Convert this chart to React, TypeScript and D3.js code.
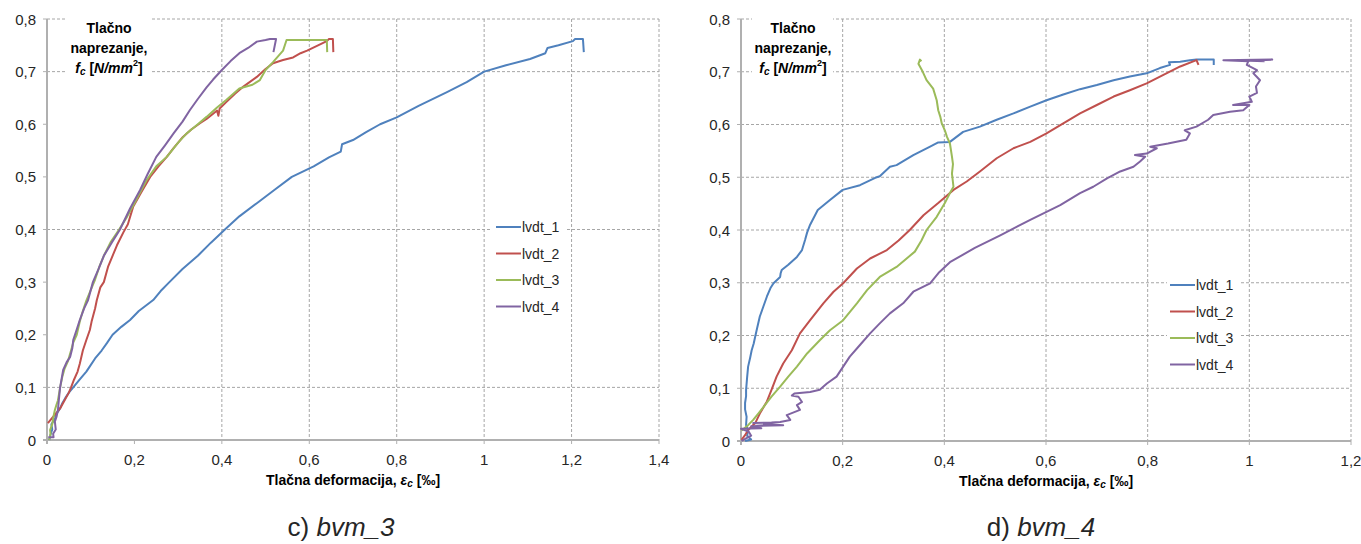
import React from "react";
import * as d3 from "d3";

type Pt = [number, number];

// ---------- tick labels ----------
const yTickValues = [0, 0.1, 0.2, 0.3, 0.4, 0.5, 0.6, 0.7, 0.8];
const yTickLabels = ["0", "0,1", "0,2", "0,3", "0,4", "0,5", "0,6", "0,7", "0,8"];
const xTicksC = [0, 0.2, 0.4, 0.6, 0.8, 1, 1.2, 1.4];
const xTickLabelsC = ["0", "0,2", "0,4", "0,6", "0,8", "1", "1,2", "1,4"];
const xTicksD = [0, 0.2, 0.4, 0.6, 0.8, 1, 1.2];
const xTickLabelsD = ["0", "0,2", "0,4", "0,6", "0,8", "1", "1,2"];
const hGridC = [0.1, 0.4, 0.7, 0.8];
const vGridC = [0.4, 0.6, 0.8, 1, 1.2, 1.4];
const hGridD = [0.1, 0.2, 0.3, 0.4, 0.5, 0.6, 0.7, 0.8];
const vGridD = [0.2, 0.4, 0.6, 0.8, 1, 1.2];
const seriesNames = ["lvdt_1", "lvdt_2", "lvdt_3", "lvdt_4"];
const seriesColors = ["#4F81BD", "#C0504D", "#9BBB59", "#8064A2"];

// ---------- bvm_3 ----------
const bvm3_lvdt1: Pt[] = [[0.005,0.0],[0.008,0.01],[0.012,0.02],[0.01,0.03],[0.018,0.04],[0.022,0.05],[0.03,0.06],[0.035,0.07],[0.042,0.08],[0.05,0.09],[0.06,0.1],[0.075,0.115],[0.09,0.13],[0.098,0.14],[0.11,0.155],[0.125,0.17],[0.137,0.184],[0.15,0.2],[0.17,0.215],[0.19,0.228],[0.21,0.245],[0.243,0.266],[0.26,0.283],[0.28,0.3],[0.31,0.325],[0.345,0.35],[0.375,0.375],[0.407,0.4],[0.44,0.425],[0.48,0.45],[0.52,0.475],[0.56,0.5],[0.61,0.52],[0.645,0.537],[0.672,0.548],[0.675,0.562],[0.70,0.57],[0.73,0.585],[0.762,0.6],[0.8,0.613],[0.85,0.635],[0.915,0.661],[0.96,0.68],[1.0,0.7],[1.05,0.712],[1.105,0.724],[1.14,0.735],[1.145,0.745],[1.17,0.75],[1.203,0.758],[1.208,0.762],[1.226,0.762],[1.228,0.737]];
const bvm3_lvdt2: Pt[] = [[0.002,0.032],[0.01,0.04],[0.02,0.05],[0.03,0.06],[0.04,0.075],[0.05,0.09],[0.055,0.1],[0.062,0.115],[0.07,0.13],[0.075,0.145],[0.082,0.17],[0.09,0.19],[0.098,0.209],[0.102,0.225],[0.11,0.25],[0.114,0.266],[0.122,0.29],[0.13,0.3],[0.14,0.33],[0.15,0.35],[0.16,0.37],[0.175,0.395],[0.185,0.41],[0.197,0.443],[0.215,0.47],[0.236,0.5],[0.255,0.52],[0.274,0.538],[0.29,0.555],[0.311,0.576],[0.33,0.59],[0.35,0.602],[0.365,0.61],[0.38,0.62],[0.389,0.626],[0.392,0.616],[0.395,0.63],[0.41,0.642],[0.43,0.658],[0.45,0.672],[0.48,0.69],[0.50,0.705],[0.517,0.716],[0.54,0.722],[0.563,0.727],[0.58,0.735],[0.595,0.74],[0.62,0.75],[0.64,0.758],[0.645,0.762],[0.654,0.762],[0.655,0.737]];
const bvm3_lvdt3: Pt[] = [[0.005,0.0],[0.008,0.012],[0.007,0.019],[0.012,0.03],[0.015,0.045],[0.018,0.057],[0.022,0.068],[0.025,0.075],[0.028,0.09],[0.03,0.1],[0.035,0.12],[0.04,0.135],[0.048,0.15],[0.055,0.17],[0.06,0.185],[0.068,0.2],[0.075,0.225],[0.082,0.245],[0.09,0.265],[0.1,0.285],[0.11,0.305],[0.12,0.33],[0.13,0.35],[0.145,0.375],[0.165,0.4],[0.183,0.424],[0.2,0.45],[0.228,0.494],[0.25,0.52],[0.274,0.538],[0.3,0.565],[0.32,0.583],[0.345,0.6],[0.365,0.614],[0.389,0.632],[0.41,0.646],[0.44,0.668],[0.47,0.675],[0.487,0.684],[0.5,0.703],[0.517,0.718],[0.54,0.74],[0.548,0.76],[0.64,0.76],[0.641,0.737]];
const bvm3_lvdt4: Pt[] = [[0.003,0.005],[0.015,0.005],[0.014,0.012],[0.02,0.02],[0.018,0.035],[0.022,0.045],[0.025,0.057],[0.027,0.075],[0.03,0.1],[0.037,0.133],[0.045,0.148],[0.053,0.158],[0.058,0.175],[0.06,0.19],[0.068,0.21],[0.075,0.228],[0.085,0.25],[0.094,0.266],[0.105,0.3],[0.118,0.325],[0.13,0.35],[0.148,0.375],[0.167,0.4],[0.19,0.44],[0.213,0.475],[0.23,0.505],[0.25,0.538],[0.27,0.56],[0.29,0.583],[0.31,0.605],[0.327,0.627],[0.345,0.648],[0.365,0.67],[0.38,0.685],[0.40,0.703],[0.42,0.72],[0.44,0.735],[0.46,0.745],[0.48,0.757],[0.5,0.76],[0.51,0.762],[0.524,0.762],[0.518,0.737]];

// ---------- bvm_4 ----------
const bvm4_lvdt1: Pt[] = [[0.008,0.0],[0.02,0.003],[0.012,0.01],[0.014,0.02],[0.01,0.03],[0.011,0.046],[0.008,0.06],[0.008,0.072],[0.01,0.085],[0.01,0.097],[0.012,0.12],[0.014,0.141],[0.018,0.158],[0.021,0.172],[0.025,0.185],[0.028,0.198],[0.032,0.215],[0.037,0.236],[0.044,0.255],[0.051,0.274],[0.058,0.29],[0.064,0.299],[0.077,0.311],[0.078,0.318],[0.08,0.324],[0.093,0.334],[0.11,0.349],[0.12,0.362],[0.126,0.381],[0.13,0.395],[0.136,0.41],[0.151,0.438],[0.175,0.457],[0.2,0.476],[0.234,0.485],[0.264,0.499],[0.273,0.502],[0.293,0.52],[0.306,0.523],[0.339,0.542],[0.372,0.558],[0.388,0.566],[0.411,0.567],[0.437,0.586],[0.47,0.596],[0.503,0.609],[0.536,0.621],[0.569,0.634],[0.601,0.646],[0.634,0.657],[0.667,0.667],[0.70,0.675],[0.733,0.684],[0.765,0.691],[0.798,0.697],[0.824,0.707],[0.844,0.713],[0.842,0.718],[0.864,0.719],[0.883,0.722],[0.896,0.723],[0.93,0.723],[0.93,0.713]];
const bvm4_lvdt2: Pt[] = [[0.001,0.002],[0.008,0.011],[0.014,0.021],[0.028,0.034],[0.037,0.052],[0.051,0.075],[0.06,0.097],[0.07,0.122],[0.083,0.147],[0.10,0.172],[0.116,0.204],[0.136,0.229],[0.162,0.261],[0.182,0.283],[0.201,0.299],[0.228,0.327],[0.254,0.346],[0.287,0.362],[0.31,0.38],[0.332,0.40],[0.359,0.428],[0.388,0.451],[0.418,0.476],[0.444,0.492],[0.47,0.511],[0.503,0.536],[0.536,0.555],[0.569,0.567],[0.601,0.583],[0.634,0.602],[0.667,0.621],[0.70,0.637],[0.733,0.653],[0.765,0.665],[0.798,0.678],[0.831,0.694],[0.864,0.71],[0.896,0.722],[0.9,0.713]];
const bvm4_lvdt3: Pt[] = [[0.001,0.02],[0.014,0.03],[0.024,0.04],[0.034,0.052],[0.047,0.068],[0.06,0.084],[0.077,0.103],[0.093,0.122],[0.11,0.141],[0.13,0.166],[0.155,0.191],[0.175,0.21],[0.201,0.229],[0.228,0.261],[0.248,0.286],[0.273,0.311],[0.306,0.33],[0.342,0.359],[0.355,0.38],[0.365,0.40],[0.385,0.425],[0.401,0.451],[0.411,0.47],[0.418,0.482],[0.415,0.507],[0.417,0.525],[0.415,0.539],[0.411,0.564],[0.405,0.577],[0.401,0.589],[0.395,0.602],[0.392,0.615],[0.388,0.627],[0.385,0.646],[0.378,0.668],[0.365,0.684],[0.356,0.703],[0.349,0.715],[0.352,0.723],[0.355,0.72]];
const bvm4_lvdt4: Pt[] = [[0.001,0.0],[0.01,0.005],[0.02,0.01],[0.015,0.018],[0.0,0.023],[0.04,0.024],[0.02,0.028],[0.083,0.03],[0.024,0.034],[0.06,0.035],[0.077,0.036],[0.097,0.04],[0.09,0.049],[0.116,0.059],[0.11,0.068],[0.12,0.074],[0.113,0.084],[0.1,0.086],[0.105,0.09],[0.136,0.093],[0.155,0.097],[0.169,0.109],[0.188,0.122],[0.201,0.141],[0.214,0.16],[0.234,0.182],[0.254,0.204],[0.273,0.223],[0.293,0.242],[0.319,0.261],[0.339,0.283],[0.372,0.299],[0.39,0.32],[0.411,0.339],[0.46,0.366],[0.51,0.39],[0.569,0.419],[0.628,0.447],[0.667,0.47],[0.693,0.482],[0.72,0.498],[0.746,0.511],[0.772,0.52],[0.785,0.53],[0.795,0.539],[0.775,0.542],[0.798,0.545],[0.818,0.555],[0.805,0.558],[0.84,0.564],[0.876,0.571],[0.883,0.583],[0.873,0.589],[0.896,0.596],[0.919,0.609],[0.929,0.618],[0.962,0.624],[0.988,0.627],[1.0,0.637],[0.968,0.637],[1.005,0.643],[1.0,0.653],[1.015,0.66],[1.013,0.672],[1.021,0.684],[1.015,0.69],[1.008,0.697],[1.015,0.703],[0.995,0.713],[0.998,0.72],[0.949,0.722],[1.045,0.723],[1.0,0.721],[1.03,0.72]];

const FONT = "'Liberation Sans', Arial, sans-serif";
const GRID = "#a6a6a6";
const TXT = "#262626";

type PanelProps = {
  x0: number; x1: number; y0: number; y1: number; xMax: number;
  xTicks: number[]; xLabels: string[]; hGrid: number[]; vGrid: number[];
  series: Pt[][]; legendX: number; legendY: number; legendBox: [number, number, number, number];
  labelBox: [number, number, number, number]; labelCx: number; caption: string; captionCx: number;
};

function Panel(p: PanelProps) {
  const x = d3.scaleLinear().domain([0, p.xMax]).range([p.x0, p.x1]);
  const y = d3.scaleLinear().domain([0, 0.8]).range([p.y1, p.y0]);
  const line = d3.line<Pt>().x((d) => x(d[0])).y((d) => y(d[1]));
  const cx = (p.x0 + p.x1) / 2;
  return (
    <g fontFamily={FONT}>
      {p.hGrid.map((v) => (
        <line key={"h" + v} x1={p.x0} x2={p.x1} y1={y(v)} y2={y(v)} stroke={GRID} strokeWidth={1} strokeDasharray="3,2" />
      ))}
      {p.vGrid.map((v) => (
        <line key={"v" + v} x1={x(v)} x2={x(v)} y1={p.y0} y2={p.y1} stroke={GRID} strokeWidth={1} strokeDasharray="3,2" />
      ))}
      {/* axes */}
      <line x1={p.x0} x2={p.x0} y1={p.y0} y2={p.y1 + 4} stroke="#b0b0b0" strokeWidth={2} />
      <line x1={p.x0 - 4} x2={p.x1} y1={p.y1} y2={p.y1} stroke="#b0b0b0" strokeWidth={2} />
      {yTickValues.map((v) => (
        <line key={"yt" + v} x1={p.x0 - 4} x2={p.x0} y1={y(v)} y2={y(v)} stroke="#b0b0b0" strokeWidth={1} />
      ))}
      {p.xTicks.map((v) => (
        <line key={"xt" + v} x1={x(v)} x2={x(v)} y1={p.y1} y2={p.y1 + 4} stroke="#b0b0b0" strokeWidth={1} />
      ))}
      {yTickValues.map((v, i) => (
        <text key={"yl" + v} x={p.x0 - 11} y={y(v)} textAnchor="end" dominantBaseline="central" fontSize={15} fill={TXT}>
          {yTickLabels[i]}
        </text>
      ))}
      {p.xTicks.map((v, i) => (
        <text key={"xl" + v} x={x(v)} y={p.y1 + 19} textAnchor="middle" dominantBaseline="central" fontSize={15} fill={TXT}>
          {p.xLabels[i]}
        </text>
      ))}
      {/* series */}
      {p.series.map((s, i) => (
        <path key={"s" + i} d={line(s) || ""} fill="none" stroke={seriesColors[i]} strokeWidth={2} strokeLinejoin="round" />
      ))}
      {/* y label box */}
      <rect x={p.labelBox[0]} y={p.labelBox[1]} width={p.labelBox[2]} height={p.labelBox[3]} fill="#fff" />
      <text x={p.labelCx} y={28} textAnchor="middle" dominantBaseline="central" fontSize={14} fontWeight="bold" fill="#000">Tlačno</text>
      <text x={p.labelCx} y={48} textAnchor="middle" dominantBaseline="central" fontSize={14} fontWeight="bold" fill="#000">naprezanje,</text>
      <text x={p.labelCx} y={68} textAnchor="middle" dominantBaseline="central" fontSize={14} fontWeight="bold" fill="#000">
        <tspan fontStyle="italic">f</tspan>
        <tspan fontStyle="italic" fontSize={10} dy={3}>c</tspan>
        <tspan dy={-3}> [</tspan>
        <tspan fontStyle="italic">N/mm</tspan>
        <tspan fontSize={9} dy={-5}>2</tspan>
        <tspan dy={5}>]</tspan>
      </text>
      {/* legend */}
      <rect x={p.legendBox[0]} y={p.legendBox[1]} width={p.legendBox[2]} height={p.legendBox[3]} fill="#fff" />
      {seriesNames.map((n, i) => (
        <g key={n}>
          <line x1={p.legendX} x2={p.legendX + 25} y1={p.legendY + i * 26.5} y2={p.legendY + i * 26.5} stroke={seriesColors[i]} strokeWidth={2} />
          <text x={p.legendX + 26} y={p.legendY + i * 26.5} dominantBaseline="central" fontSize={14} fill={TXT}>{n}</text>
        </g>
      ))}
      {/* x title */}
      <text x={cx} y={p.y1 + 40} textAnchor="middle" dominantBaseline="central" fontSize={14} fontWeight="bold" fill="#000">
        <tspan>Tlačna deformacija, </tspan>
        <tspan fontStyle="italic">ε</tspan>
        <tspan fontStyle="italic" fontSize={10} dy={3}>c</tspan>
        <tspan dy={-3}> [‰]</tspan>
      </text>
      {/* caption */}
      <text x={p.captionCx} y={527} textAnchor="middle" dominantBaseline="central" fontSize={26} fill={TXT}>
        <tspan>{p.caption.split(" ")[0]} </tspan>
        <tspan fontStyle="italic">{p.caption.split(" ")[1]}</tspan>
      </text>
    </g>
  );
}

export default function App() {
  return (
    <svg width={1361} height={544} style={{ position: "absolute", left: 0, top: 0, display: "block", background: "#fff" }}>
      <rect width={1361} height={544} fill="#fff" />
      <Panel
        x0={47} x1={659} y0={19} y1={440} xMax={1.4}
        xTicks={xTicksC} xLabels={xTickLabelsC} hGrid={hGridC} vGrid={vGridC}
        series={[bvm3_lvdt1, bvm3_lvdt2, bvm3_lvdt3, bvm3_lvdt4]}
        legendX={496} legendY={227} legendBox={[492, 214, 73, 106]}
        labelBox={[67, 14, 83, 66]} labelCx={109} caption="c) bvm_3" captionCx={341}
      />
      <Panel
        x0={741} x1={1351} y0={19} y1={441} xMax={1.2}
        xTicks={xTicksD} xLabels={xTickLabelsD} hGrid={hGridD} vGrid={vGridD}
        series={[bvm4_lvdt1, bvm4_lvdt2, bvm4_lvdt3, bvm4_lvdt4]}
        legendX={1170} legendY={285} legendBox={[1167, 272, 73, 106]}
        labelBox={[752, 14, 81, 66]} labelCx={793} caption="d) bvm_4" captionCx={1041}
      />
    </svg>
  );
}
